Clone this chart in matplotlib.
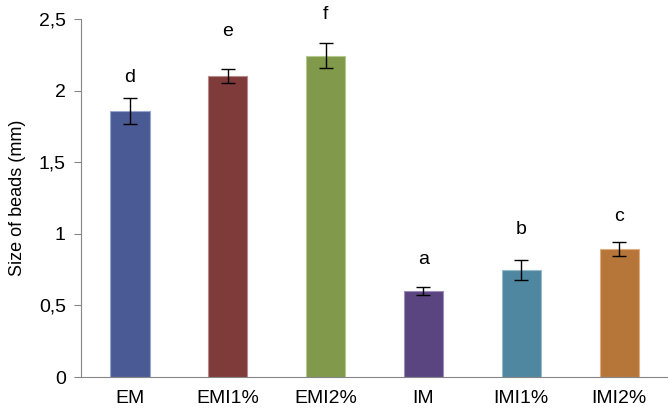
import numpy as np
import matplotlib
matplotlib.use('Agg')
import matplotlib.pyplot as plt
from matplotlib.ticker import FuncFormatter

plt.rcParams['font.family'] = ['Liberation Sans', 'DejaVu Sans']

groups = ['EM', 'EMI1%', 'EMI2%', 'IM', 'IMI1%', 'IMI2%']
sizes = [1.855, 2.10, 2.245, 0.60, 0.75, 0.895]
errors = [0.09, 0.05, 0.09, 0.03, 0.07, 0.05]
letters = ['d', 'e', 'f', 'a', 'b', 'c']
letter_y = [2.09, 2.41, 2.53, 0.82, 1.03, 1.12]
colors = ['#4a5a94', '#7f3a3a', '#80994a', '#5a4580', '#4f87a0', '#b77639']
edges = ['#9aa6cc', '#b88a8a', '#b5c98e', '#9c8cbc', '#96bccc', '#dcae80']

fig = plt.figure(figsize=(6.68, 4.11), dpi=100)
ax = fig.add_axes([0.1213, 0.0827, 0.8787, 0.8711])

x = np.arange(len(groups))
ax.bar(x, sizes, width=0.4, color=colors, edgecolor=edges, linewidth=0.8, zorder=2)
ax.errorbar(x, sizes, yerr=errors, fmt='none', ecolor='black', elinewidth=1,
            capsize=5, capthick=1, zorder=3)

for xi, yi, t in zip(x, letter_y, letters):
    ax.text(xi, yi, t, ha='center', va='center', fontsize=14)

ax.set_xlim(-0.5, 5.5)
ax.set_ylim(0, 2.5)
ax.set_yticks([0, 0.5, 1, 1.5, 2, 2.5])
ax.yaxis.set_major_formatter(FuncFormatter(lambda v, p: ('%g' % v).replace('.', ',')))
ax.set_xticks(x)
ax.set_xticklabels(groups)
ax.set_ylabel('Size of beads (mm)', fontsize=13, labelpad=9)

for s in ['top', 'right']:
    ax.spines[s].set_visible(False)
for s in ['left', 'bottom']:
    ax.spines[s].set_color('#868686')
ax.tick_params(axis='y', length=5, color='#868686', labelsize=14, pad=6)
ax.tick_params(axis='x', length=0, labelsize=14, pad=9)

plt.savefig('out.png', dpi=100)
